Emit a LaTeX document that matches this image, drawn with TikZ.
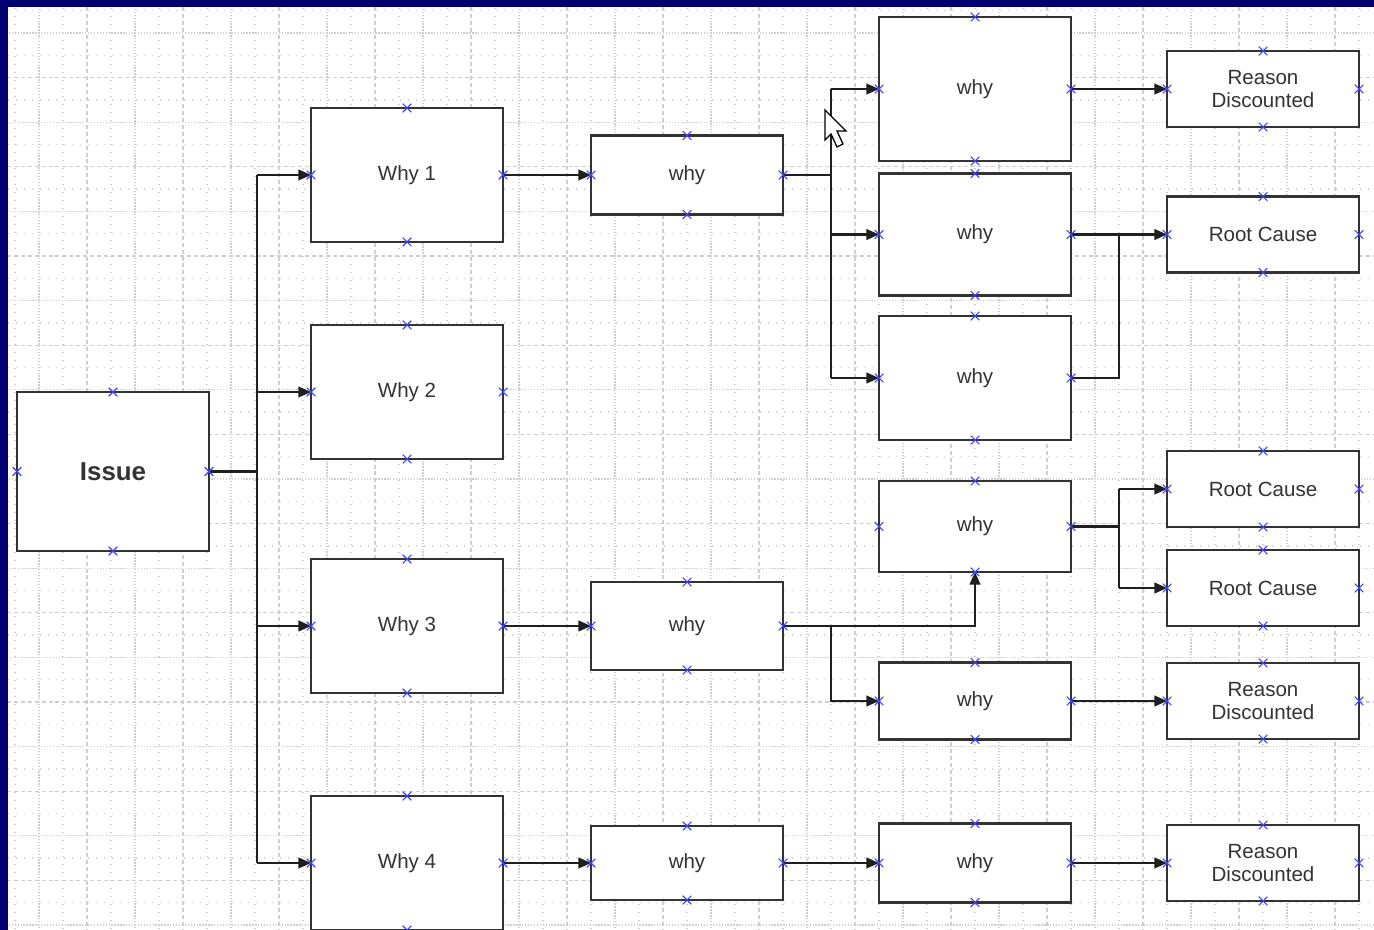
\documentclass[tikz,border=0pt]{standalone}
\usepackage{fontspec}
\setmainfont{Liberation Sans}
\usetikzlibrary{arrows.meta, shapes.misc, calc}
\definecolor{vsNavy}{HTML}{000070}
\definecolor{vsGrid}{HTML}{CFCFCF}
\definecolor{vsBlue}{HTML}{4040FF}
\definecolor{vsInk}{HTML}{333333}
\tikzset{
  gridA/.style    = {vsGrid, line width=1pt, dash pattern=on 1pt off 1.2pt},
  gridB/.style    = {vsGrid, line width=1pt, dash pattern=on 3pt off 2.2pt},
  gridC/.style    = {vsGrid, line width=1pt, dash pattern=on 1pt off 5pt},
  boxnode/.style  = {draw=vsInk, fill=white, line width=1.6pt, minimum width=144pt,
                     inner sep=0pt, outer sep=0pt, align=center, text=vsInk,
                     font=\fontsize{15.4}{17.3}\selectfont},
  tall/.style     = {minimum height=#1*0.75pt},
  issuefont/.style= {font=\fontsize{19.4}{22}\selectfont\bfseries},
  link/.style     = {vsInk!60!black, line width=1.6pt},
  linkto/.style   = {link, -{Triangle[length=9.5pt,width=8pt]}},
  xmark/.style    = {cross out, draw=vsBlue, line width=0.8pt, minimum size=6.5pt,
                     inner sep=0pt, outer sep=0pt},
}

\begin{document}
\begin{tikzpicture}[x=0.75pt, y=-0.75pt]
\useasboundingbox (0,0) rectangle (1374,930);
\fill[white] (0,0) rectangle (1374,930);
% page grid
\foreach \k in {-1,...,27} \draw[gridC] ({63+48*\k},0) -- ({63+48*\k},930);
\foreach \k in {-1,...,20} \draw[gridC] (0,{55.3+44.6*\k}) -- (1374,{55.3+44.6*\k});
\foreach \k in {0,2,...,28} \draw[gridA] ({39+48*\k},0) -- ({39+48*\k},930);
\foreach \k in {1,3,...,27} \draw[gridB] ({39+48*\k},0) -- ({39+48*\k},930);
\foreach \k in {0,2,...,20} \draw[gridA] (0,{33+44.6*\k}) -- (1374,{33+44.6*\k});
\foreach \k in {1,3,...,19} \draw[gridB] (0,{33+44.6*\k}) -- (1374,{33+44.6*\k});
% window frame
\fill[vsNavy] (0,0) rectangle (1374,7);
\fill[vsNavy] (0,0) rectangle (8,930);

% issue and the four whys
\node[boxnode, tall=159, issuefont] (issue) at (113,471.5) {Issue};
\node[boxnode, tall=134] (why1) at (407,175) {Why 1};
\node[boxnode, tall=134] (why2) at (407,392) {Why 2};
\node[boxnode, tall=134] (why3) at (407,626) {Why 3};
\node[boxnode, tall=134] (why4) at (407,863) {Why 4};
% second level
\node[boxnode, tall=79] (w1) at (687,175) {why};
\node[boxnode, tall=88] (w3) at (687,626) {why};
\node[boxnode, tall=74] (w4) at (687,863) {why};
% third level
\node[boxnode, tall=144] (c1) at (975,89) {why};
\node[boxnode, tall=122] (c2) at (975,234.5) {why};
\node[boxnode, tall=124] (c3) at (975,378) {why};
\node[boxnode, tall=91]  (c4) at (975,526.5) {why};
\node[boxnode, tall=77]  (c5) at (975,701) {why};
\node[boxnode, tall=79]  (c6) at (975,863) {why};
% outcomes
\node[boxnode, tall=76] (r1) at (1263,89) {Reason\\Discounted};
\node[boxnode, tall=76] (r2) at (1263,234.5) {Root Cause};
\node[boxnode, tall=76] (r3) at (1263,489) {Root Cause};
\node[boxnode, tall=76] (r4) at (1263,588) {Root Cause};
\node[boxnode, tall=76] (r5) at (1263,701) {Reason\\Discounted};
\node[boxnode, tall=76] (r6) at (1263,863) {Reason\\Discounted};

\coordinate (trunk1) at (257,0);
\coordinate (trunk2) at (831,0);
\coordinate (trunk3) at (1119,0);

% connectors
\draw[link] (issue.east) -- (trunk1 |- issue.east);
\draw[link] (trunk1 |- why1.west) -- (trunk1 |- why4.west);
\foreach \w in {why1,why2,why3,why4} \draw[linkto] (trunk1 |- \w.west) -- (\w.west);
\draw[linkto] (why1.east) -- (w1.west);
\draw[link] (w1.east) -- (trunk2 |- w1.east);
\draw[link] (trunk2 |- c1.west) -- (trunk2 |- c3.west);
\foreach \c in {c1,c2,c3} \draw[linkto] (trunk2 |- \c.west) -- (\c.west);
\draw[linkto] (c1.east) -- (r1.west);
\draw[linkto] (c2.east) -- (r2.west);
\draw[link] (c3.east) -| (trunk3 |- r2.west);
\draw[link] (c4.east) -- (trunk3 |- c4.east);
\draw[link] (trunk3 |- r3.west) -- (trunk3 |- r4.west);
\draw[linkto] (trunk3 |- r3.west) -- (r3.west);
\draw[linkto] (trunk3 |- r4.west) -- (r4.west);
\draw[linkto] (why3.east) -- (w3.west);
\draw[linkto] (w3.east) -| (c4.south);
\draw[linkto] (trunk2 |- w3.east) |- (c5.west);
\draw[linkto] (c5.east) -- (r5.west);
\draw[linkto] (why4.east) -- (w4.west);
\draw[linkto] (w4.east) -- (c6.west);
\draw[linkto] (c6.east) -- (r6.west);

% connection points
\foreach \n in {issue,why1,why2,why3,why4,w1,w3,w4,c1,c2,c3,c4,c5,c6,r1,r2,r3,r4,r5,r6}
  \foreach \a in {north,south,east,west}
    \node[xmark] (\n-\a) at (\n.\a) {};

% mouse pointer
\draw[black, fill=white, line width=1pt, line join=miter]
  (825,110) -- (825,140) -- (831,134) -- (837,147) -- (843,144) -- (837,131) -- (846,131) -- cycle;
\end{tikzpicture}
\end{document}
